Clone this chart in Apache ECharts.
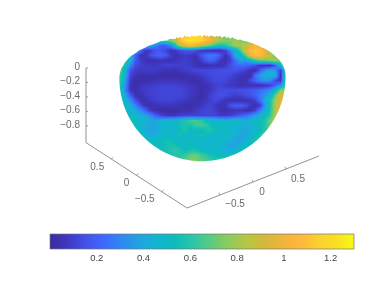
<!DOCTYPE html>
<html><head><meta charset="utf-8">
<style>html,body{margin:0;padding:0;background:#fff}#c{width:390px;height:293px}</style>
<script src="https://cdn.jsdelivr.net/npm/echarts@6/dist/echarts.min.js"></script></head>
<body><div id="c"></div>
<script>
const xTicks=[-0.5,0,0.5], yTicks=[-0.5,0,0.5], zTicks=[0,-0.2,-0.4,-0.6,-0.8], barTicks=[0.2,0.4,0.6,0.8,1,1.2];
const xRange=[-1,1], yRange=[-1,1], zRange=[-1.03,0];
const colormap=['#3a2a9c','#3f38c4','#4350e8','#3f68ff','#2e88f0','#20a4e0','#12b4d0','#0cbcbc','#2cc6a4','#5ccb80','#8ecb5c','#b8c644','#d4b83a','#f0b43c','#ffb83c','#fcd030','#f8e024','#f8fa10'];
const valueRows=[
[.6,.6,.6,.6,.6,.6,.6,.6,.6,.6,.8,.9,1,1.1,1.15,1.18,1.15,1.05,.95,.85,.75,.7,.7,.7,.7,.7,.7,.7,.7,.7,.7,.7,.7,.7],
[.6,.6,.6,.6,.6,.6,.6,.6,.6,.65,.75,.85,1.1,1.2,1.25,1.22,1.2,1.1,1.05,.9,.8,.75,.75,.8,.75,.7,.7,.7,.7,.7,.7,.7,.7,.7],
[.5,.5,.5,.5,.5,.5,.4,.3,.2,.2,.3,.55,.85,1,1.05,1,.9,.8,.7,.6,.55,.6,.7,.8,.8,.85,.95,1.05,1,.85,.8,.8,.8,.8],
[.5,.5,.5,.4,.25,.06,.09,.16,.17,.12,.05,.07,.14,.17,.18,.15,.08,.05,.04,.04,.05,.12,.3,.45,.65,.95,1.08,1.12,1.08,.95,.8,.7,.7,.7],
[.5,.5,.5,.2,.06,.05,.14,.2,.22,.19,.1,.04,.07,.09,.07,.04,.15,.24,.27,.27,.17,.04,.15,.45,.45,.65,1,1.1,1.08,.95,.85,.7,.7,.7],
[.55,.6,.45,.18,.1,.04,.03,.04,.05,.04,.04,.05,.08,.09,.07,.04,.07,.16,.22,.17,.07,.04,.1,.25,.4,.35,.45,.6,.7,.7,.75,.8,.7,.7],
[.72,.55,.3,.13,.1,.09,.08,.08,.09,.11,.11,.1,.1,.1,.09,.05,.03,.03,.04,.04,.04,.08,.15,.2,.22,.22,.18,.13,.05,.03,.03,.2,.5,.6],
[.7,.42,.16,.09,.08,.09,.09,.08,.07,.05,.05,.05,.07,.09,.11,.12,.13,.13,.13,.14,.15,.15,.15,.15,.13,.1,.04,.04,.2,.34,.42,.35,.08,.55],
[.62,.42,.12,.05,.03,.03,.03,.03,.02,.02,.02,.02,.02,.03,.04,.06,.08,.1,.13,.14,.14,.14,.12,.09,.06,.04,.03,.25,.38,.44,.45,.42,.05,.55],
[.6,.36,.08,.03,.02,.02,.03,.05,.06,.06,.06,.06,.05,.04,.03,.02,.04,.07,.1,.13,.13,.12,.09,.07,.04,.04,.13,.22,.3,.35,.3,.14,.05,.6],
[.56,.32,.05,.02,.05,.08,.09,.1,.11,.11,.11,.11,.1,.09,.07,.05,.03,.04,.07,.1,.11,.09,.07,.06,.04,.05,.05,.04,.04,.05,.1,.2,.35,.65],
[.54,.3,.06,.03,.07,.09,.1,.11,.12,.12,.12,.12,.12,.1,.08,.06,.03,.04,.07,.11,.14,.14,.14,.14,.15,.16,.18,.2,.24,.28,.35,.5,.75,.8],
[.52,.4,.2,.05,.03,.08,.1,.11,.12,.12,.12,.12,.12,.1,.08,.05,.03,.05,.1,.14,.16,.14,.11,.09,.11,.14,.16,.2,.28,.35,.48,.7,.95,.9],
[.52,.47,.33,.15,.05,.04,.08,.1,.11,.11,.11,.1,.09,.07,.05,.03,.03,.06,.1,.13,.1,.05,.04,.03,.03,.04,.06,.11,.25,.42,.58,.8,.95,.9],
[.52,.5,.42,.3,.15,.05,.03,.05,.06,.06,.06,.05,.05,.03,.03,.04,.06,.1,.11,.08,.04,.06,.16,.2,.2,.16,.07,.03,.09,.38,.58,.82,.98,.9],
[.52,.52,.46,.4,.33,.2,.07,.03,.02,.02,.02,.02,.03,.03,.04,.07,.1,.12,.12,.09,.04,.03,.05,.06,.06,.04,.03,.12,.3,.45,.6,.82,.98,.9],
[.52,.52,.52,.47,.42,.4,.32,.2,.12,.07,.06,.07,.09,.11,.11,.11,.11,.12,.12,.11,.08,.07,.1,.13,.18,.22,.3,.38,.45,.52,.62,.85,.9,.9],
[.52,.52,.52,.52,.47,.45,.4,.38,.42,.45,.47,.48,.54,.58,.65,.66,.62,.54,.5,.48,.46,.44,.46,.5,.46,.44,.46,.48,.52,.6,.72,.85,.85,.8],
[.52,.52,.54,.52,.47,.42,.4,.41,.47,.48,.46,.5,.56,.58,.56,.62,.65,.62,.56,.5,.54,.5,.5,.48,.44,.42,.46,.5,.54,.6,.74,.8,.8,.8],
[.52,.52,.52,.52,.48,.44,.37,.39,.46,.5,.46,.48,.54,.58,.5,.54,.5,.56,.58,.54,.5,.48,.5,.46,.42,.38,.44,.48,.52,.6,.7,.7,.7,.7],
[.52,.52,.52,.52,.52,.46,.42,.44,.48,.5,.48,.5,.56,.48,.46,.5,.56,.54,.5,.46,.48,.54,.48,.44,.38,.42,.46,.52,.6,.65,.65,.65,.65,.65],
[.52,.52,.52,.52,.52,.52,.52,.52,.52,.56,.54,.48,.5,.54,.5,.46,.5,.48,.44,.48,.5,.46,.44,.38,.37,.44,.52,.58,.6,.6,.6,.6,.6,.6],
[.52,.52,.52,.52,.52,.52,.52,.52,.52,.56,.58,.56,.5,.48,.54,.5,.46,.46,.48,.5,.46,.42,.38,.38,.46,.52,.52,.52,.52,.52,.52,.52,.52,.52],
[.55,.55,.55,.55,.55,.55,.55,.55,.55,.55,.58,.62,.58,.54,.56,.58,.54,.5,.5,.48,.48,.46,.42,.46,.52,.52,.52,.52,.52,.52,.52,.52,.52,.52],
[.58,.58,.58,.58,.58,.58,.58,.58,.58,.58,.58,.58,.6,.62,.7,.72,.65,.62,.56,.54,.54,.5,.5,.54,.58,.58,.58,.58,.58,.58,.58,.58,.58,.58],
[.62,.62,.62,.62,.62,.62,.62,.62,.62,.62,.62,.62,.62,.7,.74,.74,.7,.66,.62,.6,.6,.6,.6,.6,.6,.6,.6,.6,.6,.6,.6,.6,.6,.6]
];
const rimTeeth=[0,-1,.6,-.3,1,-1.4,.2,.9,-.7,.4,-1.1,.7,-.2];
const xLabelShift=[[15,9],[9,10],[12,10]], yLabelShift=[[-17,8],[-10,8],[-14,8]];
const gridX0=118, gridY0=33, cell=5, rimZ=-0.04;
function project(x,y,z){return [187+66*(x+1)-50.5*(y+1), 208-26*(x+1)-32.7*(y+1)-72.5*(z+1.03)];}
const zMax=1.3;
const stops=colormap.map(c=>{let n=parseInt(c.slice(1),16);return [n>>16,(n>>8)&255,n&255];});
function colorOf(v){
  const t=Math.max(0,Math.min(1,v/zMax))*(stops.length-1),i=Math.min(stops.length-2,Math.floor(t)),f=t-i;
  const a=stops[i],b=stops[i+1];
  return 'rgb('+a.map((q,k)=>Math.round(q+(b[k]-q)*f)).join(',')+')';
}
// silhouette of the lower unit hemisphere under the view projection
const centre=project(0,0,rimZ);
const radii=new Array(180).fill(0);
for(let a=0;a<360;a+=1){for(let b=0;b<=90;b+=1){
  const A=a*Math.PI/180,B=b*Math.PI/180;
  const p=project(Math.cos(B)*Math.cos(A),Math.cos(B)*Math.sin(A),rimZ-Math.sin(B));
  const dx=p[0]-centre[0],dy=p[1]-centre[1],r=Math.hypot(dx,dy);
  const k=Math.floor(((Math.atan2(dy,dx)+Math.PI)/(2*Math.PI))*180)%180;
  if(r>radii[k])radii[k]=r;
}}
const outline=radii.map((r,k)=>{
  const t=(k+.5)/180*2*Math.PI-Math.PI;
  const top=Math.sin(t)<-0.72?rimTeeth[k%rimTeeth.length]:0;
  return [centre[0]+(r+top)*Math.cos(t),centre[1]+(r+top)*Math.sin(t)];
});
const cells=[];
valueRows.forEach((row,j)=>row.forEach((v,i)=>cells.push([i,j,v])));
function val(i,j){const r=valueRows[Math.max(0,Math.min(valueRows.length-1,j))];return r[Math.max(0,Math.min(r.length-1,i))];}
function renderCell(params,api){
  const i=api.value(0),j=api.value(1),children=[];
  const origin=api.coord([gridX0+i*cell,gridY0+j*cell]);
  const sx=Math.round(origin[0]),sy=Math.round(origin[1]);
  for(let a=0;a<cell;a++)for(let b=0;b<cell;b++){
    const u=(a+.5)/cell-.5,w=(b+.5)/cell-.5;
    const i2=u<0?i-1:i+1,j2=w<0?j-1:j+1,fu=Math.abs(u),fw=Math.abs(w);
    const v=(val(i,j)*(1-fu)+val(i2,j)*fu)*(1-fw)+(val(i,j2)*(1-fu)+val(i2,j2)*fu)*fw;
    children.push({type:'rect',shape:{x:sx+a,y:sy+b,width:1,height:1},style:{fill:colorOf(v)},silent:true});
  }
  return {type:'group',children,clipPath:{type:'polygon',shape:{points:outline}}};
}
const axisColor='#777';
const axisPath=[
  project(xRange[0],yRange[0],zRange[0]),project(xRange[1],yRange[0],zRange[0]),null,
  project(xRange[0],yRange[0],zRange[0]),project(xRange[0],yRange[1],zRange[0]),project(xRange[0],yRange[1],zRange[1])
];
const tickPath=[];
xTicks.forEach(t=>{const p=project(t,yRange[0],zRange[0]);tickPath.push(p,[p[0]-1,p[1]-2.2],null);});
yTicks.forEach(t=>{const p=project(xRange[0],t,zRange[0]);tickPath.push(p,[p[0]+2,p[1]-1.8],null);});
zTicks.forEach(t=>{const p=project(xRange[0],yRange[1],t);tickPath.push(p,[p[0]+2,p[1]],null);});
const fmt=v=>String(v).replace('-','\u2212');
const labelPts=[];
xTicks.forEach((t,i)=>{const p=project(t,yRange[0],zRange[0]);labelPts.push({value:[p[0]+xLabelShift[i][0],p[1]+xLabelShift[i][1]],name:fmt(t),align:'center'});});
yTicks.forEach((t,i)=>{const p=project(xRange[0],t,zRange[0]);labelPts.push({value:[p[0]+yLabelShift[i][0],p[1]+yLabelShift[i][1]],name:fmt(t),align:'center'});});
zTicks.forEach(t=>{const p=project(xRange[0],yRange[1],t);labelPts.push({value:[p[0]-6,p[1]-1],name:fmt(t),align:'right'});});
const font='"Liberation Sans",Arial,sans-serif';
const chart=echarts.init(document.getElementById('c'),null,{renderer:'canvas'});
chart.setOption({
  animation:false,
  grid:[{left:0,top:0,width:390,height:293,show:false},{left:50,top:234,width:304,height:15,show:false}],
  xAxis:[
    {gridIndex:0,type:'value',min:0,max:390,show:false},
    {gridIndex:1,type:'value',min:0,max:1.3,axisLine:{show:false},splitLine:{show:false},
     axisTick:{show:true,inside:true,length:3,customValues:barTicks,lineStyle:{color:'#555',width:.6}},
     axisLabel:{show:true,customValues:barTicks,color:'#444',fontSize:9.5,fontFamily:font,margin:4,formatter:v=>String(v)}}
  ],
  yAxis:[
    {gridIndex:0,type:'value',min:0,max:293,inverse:true,show:false},
    {gridIndex:1,type:'value',min:0,max:1,show:false}
  ],
  series:[
    {type:'custom',xAxisIndex:0,yAxisIndex:0,coordinateSystem:'cartesian2d',renderItem:renderCell,data:cells,clip:false,silent:true,z:2,progressive:0},
    {type:'line',xAxisIndex:0,yAxisIndex:0,data:axisPath.map(p=>p||[null,null]),showSymbol:false,symbol:'none',connectNulls:false,lineStyle:{color:axisColor,width:.8},silent:true,z:3},
    {type:'line',xAxisIndex:0,yAxisIndex:0,data:tickPath.map(p=>p||[null,null]),showSymbol:false,symbol:'none',connectNulls:false,lineStyle:{color:axisColor,width:.7},silent:true,z:3},
    {type:'scatter',xAxisIndex:0,yAxisIndex:0,symbolSize:0,silent:true,z:4,
     data:labelPts.map(d=>({value:d.value,name:d.name,label:{show:true,position:'inside',formatter:d.name,align:d.align,verticalAlign:'middle',color:'#444',fontSize:10,fontFamily:font}}))},
    {type:'custom',xAxisIndex:1,yAxisIndex:1,coordinateSystem:'cartesian2d',data:[[0,zMax]],silent:true,z:2,clip:false,
     renderItem:(p,api)=>{
       const a=api.coord([api.value(0),1]),b=api.coord([api.value(1),0]);
       return {type:'rect',shape:{x:a[0],y:a[1],width:b[0]-a[0],height:b[1]-a[1]},
        style:{stroke:'#777',lineWidth:.7,fill:new echarts.graphic.LinearGradient(0,0,1,0,colormap.map((c,i)=>({offset:i/(colormap.length-1),color:c})))}};
     }}
  ]
});
</script></body></html>
